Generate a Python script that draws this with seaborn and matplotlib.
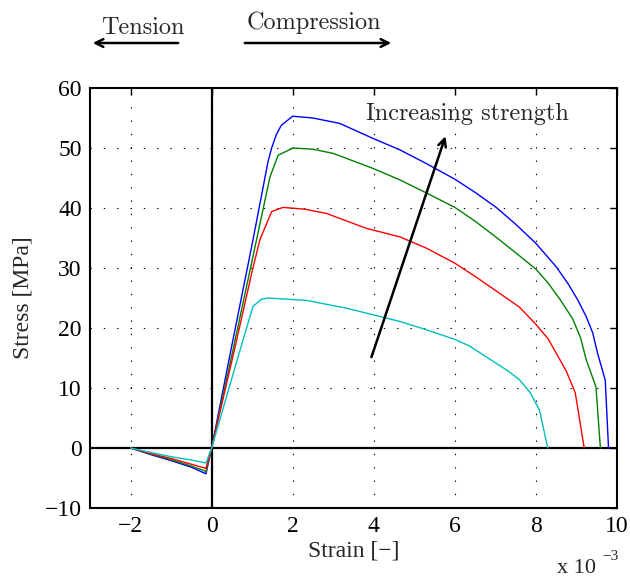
import pandas as pd
import numpy as np
import matplotlib
matplotlib.use('Agg')
import matplotlib.pyplot as plt
import seaborn as sns

# strain values are in units of 1e-3, stress in MPa
blue_x = [-2, -1.5, -1, -0.5, -0.14, 0, 0.475, 1.0, 1.39, 1.48, 1.6, 1.72, 2.0, 2.5, 3.16,
          3.98, 4.64, 5.3, 6.0, 6.5, 7.02, 7.5, 8.0, 8.5, 8.8, 9.03, 9.24, 9.4, 9.52, 9.71, 9.79]
blue_y = [0, -1.1, -2.1, -3.2, -4.3, 0, 16.3, 34, 47.7, 50, 52.3, 53.8, 55.3, 55.0, 54.1,
          51.6, 49.7, 47.4, 44.8, 42.6, 40.1, 37.3, 34.1, 30.2, 27.3, 24.7, 21.9, 19.2, 15.8, 11.3, 0]

green_x = [-2, -1.5, -1, -0.5, -0.14, 0, 0.5, 1.0, 1.3, 1.44, 1.64, 2.01, 2.5, 3.0, 3.98,
           4.64, 5.3, 6.0, 6.5, 7.1, 7.6, 8.0, 8.3, 8.6, 8.9, 9.1, 9.24, 9.48, 9.59]
green_y = [0, -1.0, -1.95, -3.0, -3.9, 0, 15.5, 31.3, 40.8, 45.2, 48.8, 50, 49.8, 49.1, 46.6,
           44.7, 42.5, 40.1, 37.8, 34.7, 32.0, 29.8, 27.5, 24.7, 21.6, 18.4, 14.7, 10.2, 0]

red_x = [-2, -1.5, -1, -0.5, -0.14, 0, 0.55, 1.0, 1.19, 1.48, 1.76, 2.3, 2.83, 3.82, 4.64,
         5.3, 6.0, 6.5, 7.1, 7.59, 8.0, 8.3, 8.5, 8.75, 8.97, 9.19]
red_y = [0, -0.95, -1.75, -2.7, -3.4, 0, 16, 29.5, 34.7, 39.4, 40.1, 39.8, 39.1, 36.6, 35.2,
         33.3, 30.8, 28.6, 25.8, 23.5, 20.6, 18.2, 15.8, 12.8, 9.2, 0]

cyan_x = [-2, -1.5, -1, -0.5, -0.14, 0, 0.7, 1.02, 1.23, 1.39, 2.34, 3.33, 4.64, 5.3, 6.0,
          6.36, 7.0, 7.3, 7.59, 7.85, 8.09, 8.29]
cyan_y = [0, -0.75, -1.45, -2.0, -2.5, 0, 16.3, 23.6, 24.8, 25, 24.6, 23.3, 21.1, 19.7, 18.1,
          17.0, 14.2, 12.9, 11.4, 9.3, 6.3, 0]

x_ticks = [-2, 0, 2, 4, 6, 8, 10]
y_ticks = [-10, 0, 10, 20, 30, 40, 50, 60]

curves = {'blue': (blue_x, blue_y, (0, 0, 1)),
          'green': (green_x, green_y, (0, 0.5, 0)),
          'red': (red_x, red_y, (1, 0, 0)),
          'cyan': (cyan_x, cyan_y, (0, 0.75, 0.75))}

frames = []
for name, (xs, ys, _) in curves.items():
    frames.append(pd.DataFrame({'strain': xs, 'stress': ys, 'curve': name}))
df = pd.concat(frames, ignore_index=True)
palette = {name: c for name, (_, _, c) in curves.items()}

sns.set_style('white')
plt.rcParams['font.family'] = ['Liberation Serif', 'DejaVu Serif']

fig = plt.figure(figsize=(6.3, 5.79), dpi=100)
ax = fig.add_axes([0.1429, 0.1226, 0.8365, 0.7254])

# grid drawn as sparse dots like MATLAB
for gx in x_ticks:
    ax.axvline(gx, color='black', lw=0.8, ls=(0, (1.2, 10.8)), zorder=0)
for gy in y_ticks:
    ax.axhline(gy, color='black', lw=0.8, ls=(0, (1.2, 10.8)), zorder=0)

ax.axhline(0, color='black', lw=1.6, zorder=1)
ax.axvline(0, color='black', lw=1.6, zorder=1)

sns.lineplot(data=df, x='strain', y='stress', hue='curve', estimator=None, sort=False,
             palette=palette, lw=1.0, legend=False, ax=ax, zorder=3)

ax.set_xlim(-3, 10)
ax.set_ylim(-10, 60)
ax.set_xticks(x_ticks)
ax.set_yticks(y_ticks)
ax.set_xticklabels(['\u22122', '0', '2', '4', '6', '8', '10'], fontsize=17)
ax.set_yticklabels(['\u221210', '0', '10', '20', '30', '40', '50', '60'], fontsize=17)
ax.tick_params(direction='in', length=5, width=1, top=True, right=True, pad=6, colors='black')
ax.set_xlabel('Strain [\u2212]', fontsize=17, labelpad=2)
ax.set_ylabel('Stress [MPa]', fontsize=17, labelpad=8)
for sp in ax.spines.values():
    sp.set_linewidth(1.5)
    sp.set_color('black')

ax.annotate('', xy=(5.79, 52.4), xytext=(3.92, 14.7),
            arrowprops=dict(arrowstyle='->', lw=1.8, color='black', mutation_scale=14))
ax.text(6.31, 54.7, 'Increasing strength', family='cmr10', fontsize=17.5,
        ha='center', va='baseline')

fig.text(557 / 630, 1 - 573 / 579, 'x 10', fontsize=16, ha='left', va='baseline')
fig.text(602 / 630, 1 - 560 / 579, '\u22123', fontsize=11, ha='left', va='baseline')

fig.text(142.5 / 630, 1 - 34 / 579, 'Tension', family='cmr10', fontsize=17.5,
         ha='center', va='baseline')
fig.text(314 / 630, 1 - 29 / 579, 'Compression', family='cmr10', fontsize=17.5,
         ha='center', va='baseline')
fig.add_artist(matplotlib.patches.FancyArrowPatch(
    (181 / 630, 1 - 43 / 579), (90 / 630, 1 - 43 / 579), transform=fig.transFigure,
    arrowstyle='->', lw=1.8, color='black', mutation_scale=14))
fig.add_artist(matplotlib.patches.FancyArrowPatch(
    (242 / 630, 1 - 43 / 579), (394 / 630, 1 - 43 / 579), transform=fig.transFigure,
    arrowstyle='->', lw=1.8, color='black', mutation_scale=14))

fig.savefig('out.png', dpi=100)
